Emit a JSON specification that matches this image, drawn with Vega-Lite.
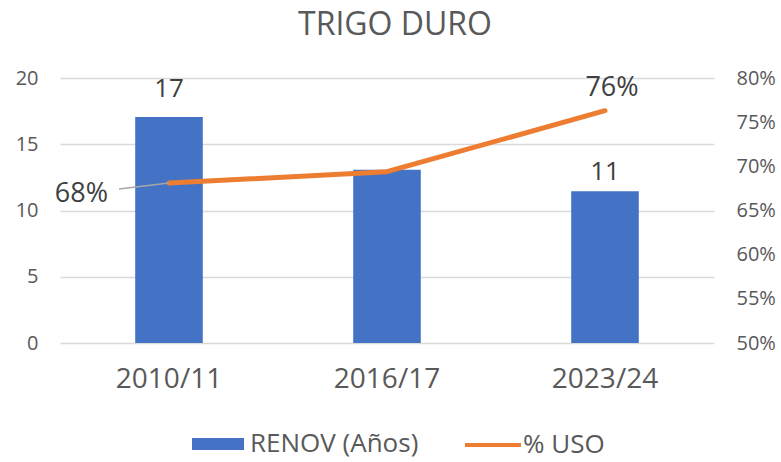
{
  "$schema": "https://vega.github.io/schema/vega-lite/v6.json",
  "width": 654,
  "height": 265,
  "autosize": {"type": "none"},
  "padding": {"left": 60, "top": 78, "right": 67, "bottom": 119},
  "background": "#ffffff",
  "title": {"text": "TRIGO DURO", "font": "Open Sans", "fontSize": 32, "fontWeight": "normal", "color": "#595959", "anchor": "middle", "dx": 8, "offset": 26},
  "config": {
    "view": {"stroke": null},
    "font": "Open Sans",
    "axis": {"labelFont": "Open Sans", "labelColor": "#595959", "ticks": false, "domain": false, "title": null}
  },
  "data": {
    "values": [
      {"cat": "2010/11", "renov": 17.05, "uso": 0.681, "serieA": "RENOV (Años)", "serieB": "% USO", "renovLabel": "17", "usoLabel": "68%"},
      {"cat": "2016/17", "renov": 13.08, "uso": 0.694, "serieA": "RENOV (Años)", "serieB": "% USO", "renovLabel": "", "usoLabel": ""},
      {"cat": "2023/24", "renov": 11.45, "uso": 0.763, "serieA": "RENOV (Años)", "serieB": "% USO", "renovLabel": "11", "usoLabel": "76%"}
    ]
  },
  "encoding": {
    "x": {"field": "cat", "type": "nominal", "sort": null, "scale": {"paddingInner": 0.69, "paddingOuter": 0.345}, "axis": {"labelAngle": 0, "labelFontSize": 28, "labelPadding": 22, "grid": false}}
  },
  "layer": [
    {
      "layer": [
        {
          "mark": {"type": "bar", "color": "#4472C4"},
          "encoding": {
            "y": {"field": "renov", "type": "quantitative", "scale": {"domain": [0, 20], "nice": false}, "axis": {"values": [0, 5, 10, 15, 20], "labelFontSize": 20, "labelPadding": 22, "grid": true, "gridColor": "#D9D9D9", "gridWidth": 1.5}},
            "fill": {"field": "serieA", "type": "nominal", "scale": {"range": ["#4472C4"]}, "legend": {"title": null, "orient": "none", "legendX": 132, "legendY": 340, "padding": 0, "symbolType": "M-1,-0.23H1V0.23H-1Z", "symbolSize": 2704, "symbolStrokeWidth": 0, "symbolOpacity": 1, "labelFontSize": 26, "labelFont": "Open Sans", "labelColor": "#595959", "labelOffset": 6, "labelLimit": 400}}
          }
        },
        {
          "transform": [{"filter": "datum.renovLabel == '17'"}],
          "mark": {"type": "text", "baseline": "alphabetic", "dy": -20, "fontSize": 26, "color": "#404040", "font": "Open Sans"},
          "encoding": {
            "y": {"field": "renov", "type": "quantitative"},
            "text": {"field": "renovLabel"}
          }
        },
        {
          "transform": [{"filter": "datum.renovLabel == '11'"}],
          "mark": {"type": "text", "baseline": "alphabetic", "dy": -11, "fontSize": 26, "color": "#404040", "font": "Open Sans"},
          "encoding": {
            "y": {"field": "renov", "type": "quantitative"},
            "text": {"field": "renovLabel"}
          }
        }
      ]
    },
    {
      "layer": [
        {
          "mark": {"type": "line", "strokeWidth": 5, "strokeCap": "round", "strokeJoin": "round"},
          "encoding": {
            "y": {"field": "uso", "type": "quantitative", "scale": {"domain": [0.5, 0.8], "nice": false, "zero": false}, "axis": {"orient": "right", "values": [0.5, 0.55, 0.6, 0.65, 0.7, 0.75, 0.8], "format": ".0%", "labelFontSize": 20, "labelPadding": 22, "grid": false}},
            "stroke": {"field": "serieB", "type": "nominal", "scale": {"range": ["#ED7D31"]}, "legend": {"title": null, "orient": "none", "legendX": 403, "legendY": 337, "padding": 0, "symbolType": "stroke", "symbolSize": 3136, "symbolStrokeWidth": 4, "labelFontSize": 26, "labelFont": "Open Sans", "labelColor": "#595959", "labelOffset": 0, "labelLimit": 400}}
          }
        },
        {
          "transform": [{"filter": "datum.usoLabel == '68%'"}],
          "mark": {"type": "rule", "color": "#A6A6A6", "strokeWidth": 1.5, "x2Offset": -50, "y2Offset": 6},
          "encoding": {
            "x2": {"field": "cat"},
            "y": {"field": "uso", "type": "quantitative"},
            "y2": {"field": "uso"}
          }
        },
        {
          "transform": [{"filter": "datum.usoLabel == '68%'"}],
          "mark": {"type": "text", "align": "right", "baseline": "alphabetic", "dx": -61, "dy": 19, "fontSize": 27, "color": "#404040", "font": "Open Sans"},
          "encoding": {
            "y": {"field": "uso", "type": "quantitative"},
            "text": {"field": "usoLabel"}
          }
        },
        {
          "transform": [{"filter": "datum.usoLabel == '76%'"}],
          "mark": {"type": "text", "align": "center", "baseline": "alphabetic", "dx": 7, "dy": -15, "fontSize": 27, "color": "#404040", "font": "Open Sans"},
          "encoding": {
            "y": {"field": "uso", "type": "quantitative"},
            "text": {"field": "usoLabel"}
          }
        }
      ]
    }
  ],
  "resolve": {"scale": {"y": "independent"}}
}
